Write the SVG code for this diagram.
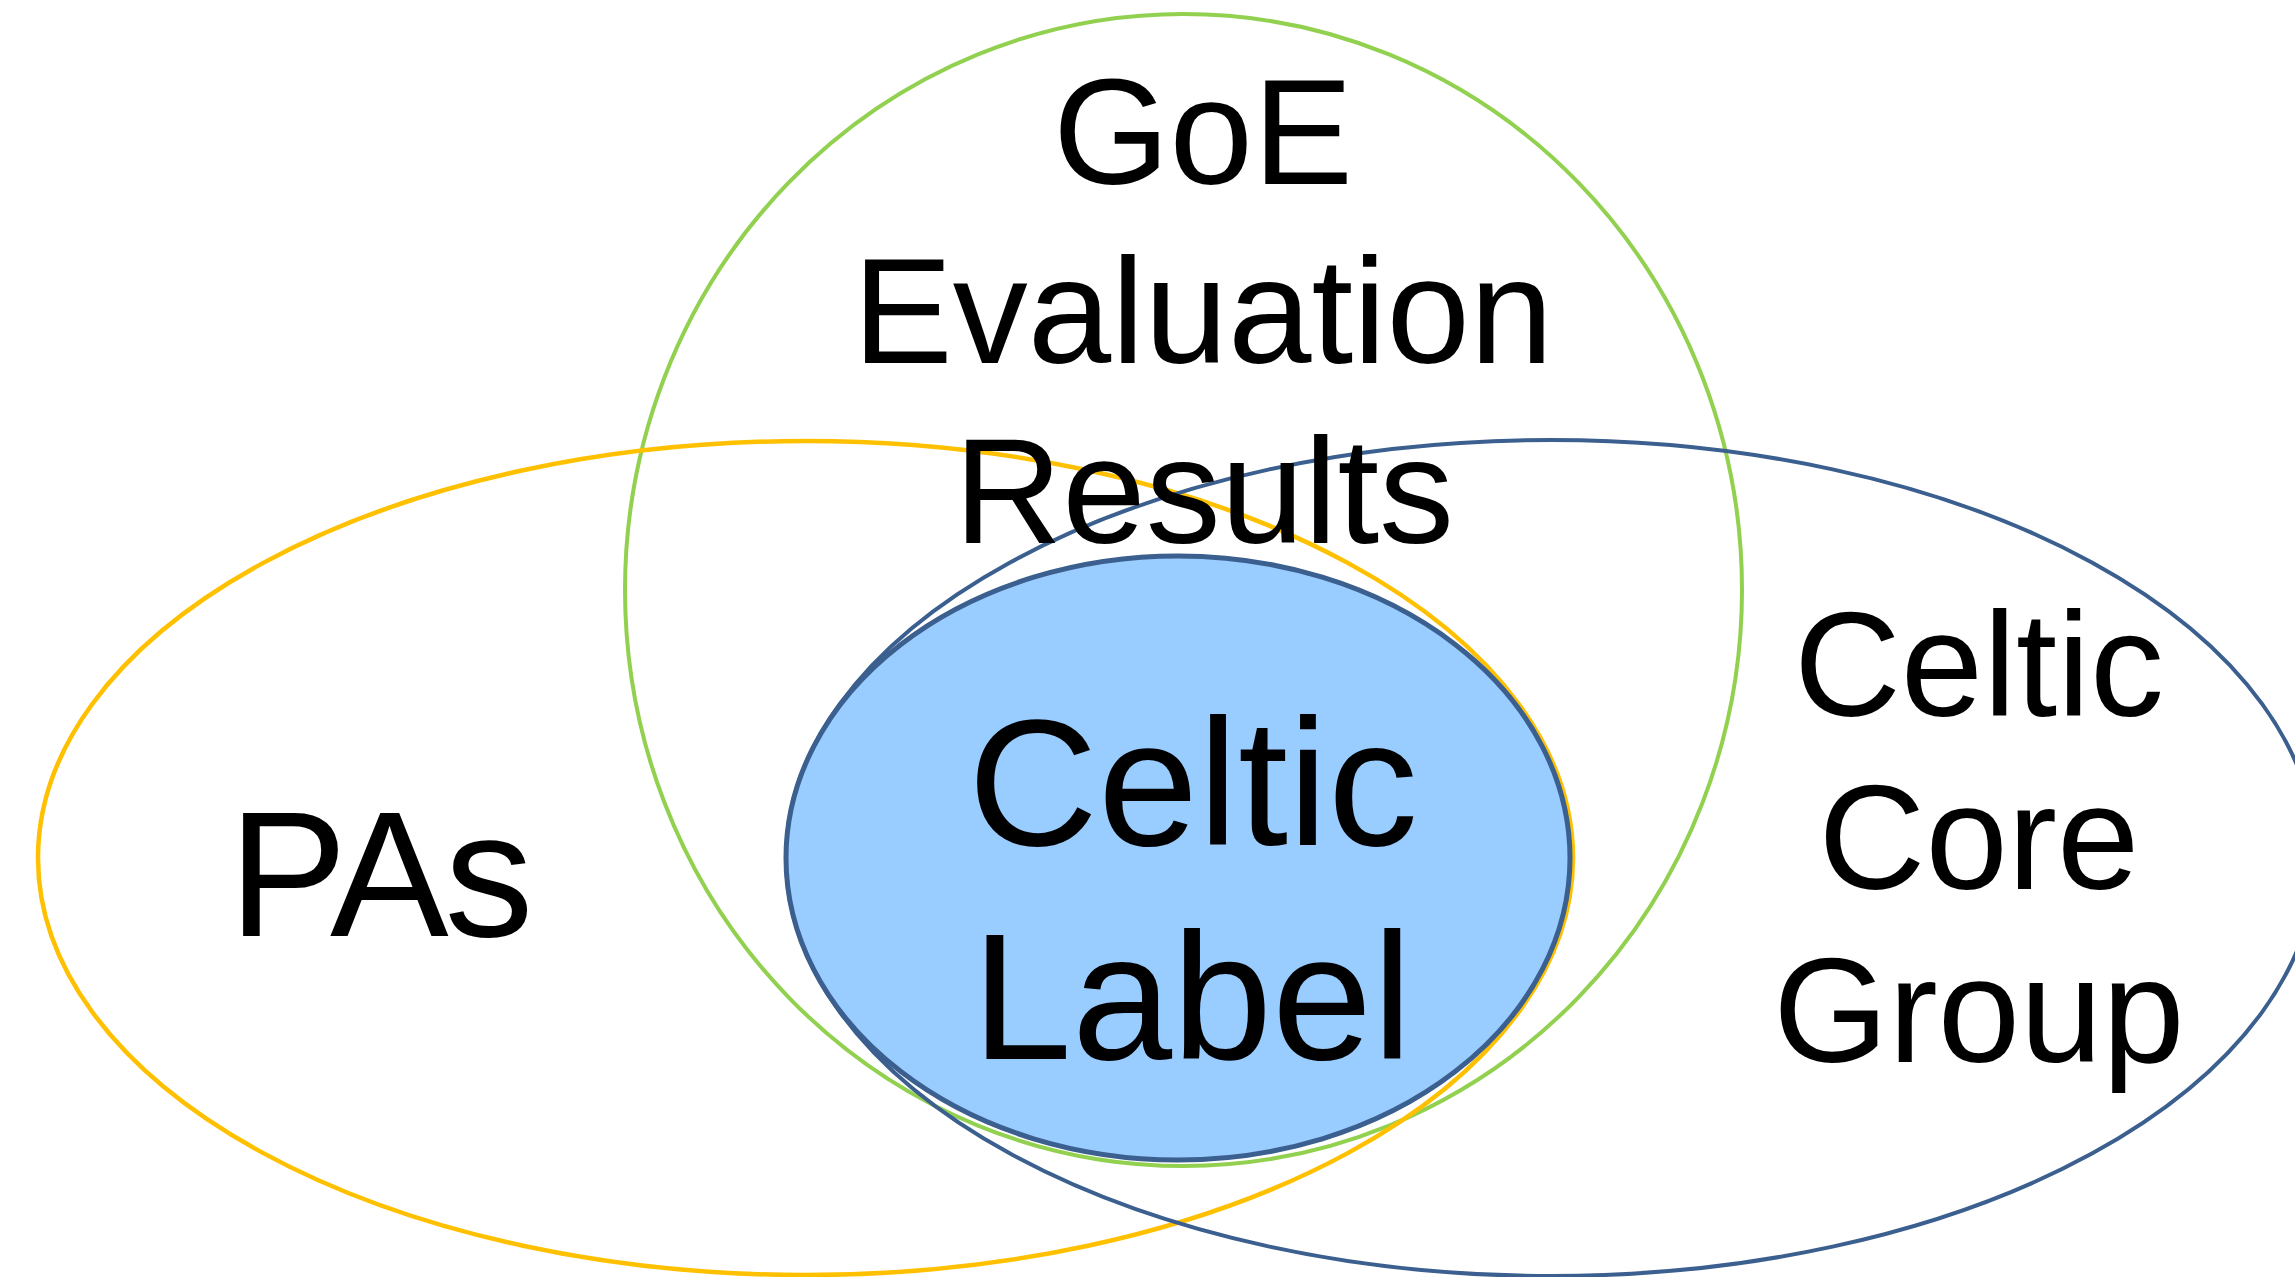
<svg xmlns="http://www.w3.org/2000/svg" width="2295" height="1277" viewBox="0 0 2295 1277">
<style>
.set{fill:none}
.lbl{font-family:"Liberation Sans",Arial,sans-serif;fill:#000}
.mid{text-anchor:middle}
</style>
<rect width="2295" height="1277" fill="#fff"/>
<g id="goe">
<ellipse cx="1183.5" cy="590" rx="558.5" ry="576" class="set" stroke="#92D050" stroke-width="4"/>
</g>
<g id="pas">
<ellipse cx="805.5" cy="858" rx="767.5" ry="417" class="set" stroke="#FFC000" stroke-width="4.5"/>
</g>
<g id="core">
<ellipse cx="1551" cy="858" rx="765" ry="418" class="set" stroke="#3B5F8E" stroke-width="4"/>
</g>
<g id="label">
<ellipse cx="1178" cy="858" rx="392" ry="302" fill="#99CCFF" stroke="#3B5F8E" stroke-width="5"/>
</g>
<g id="connectors"></g>
<g id="texts">
<text class="lbl mid" font-size="150" x="1203" y="184">GoE</text>
<text class="lbl mid" font-size="150" x="1203" y="363">Evaluation</text>
<text class="lbl mid" font-size="150" x="1204" y="543">Results</text>
<text class="lbl mid" font-size="178" x="379" y="936" letter-spacing="-4">PAs</text>
<text class="lbl mid" font-size="180" x="1193" y="845">Celtic</text>
<text class="lbl mid" font-size="180" x="1192" y="1059">Label</text>
<text class="lbl mid" font-size="148" x="1979" y="716">Celtic</text>
<text class="lbl mid" font-size="148" x="1979" y="889">Core</text>
<text class="lbl mid" font-size="148" x="1979" y="1062">Group</text>
</g>
</svg>
